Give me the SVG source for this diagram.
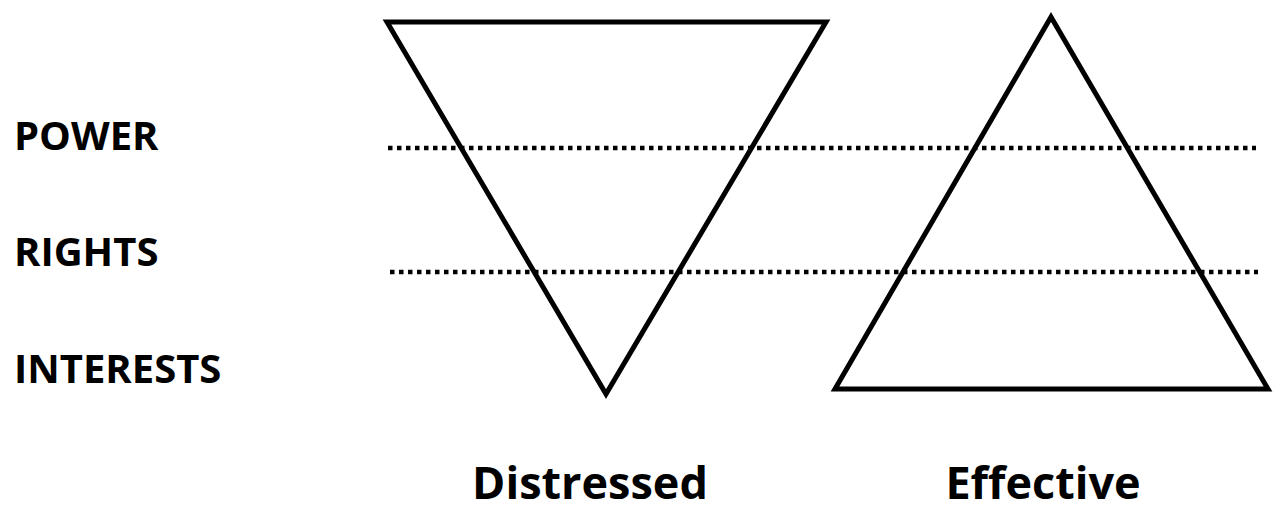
<svg xmlns="http://www.w3.org/2000/svg" width="1273" height="512" viewBox="0 0 1273 512">
<style>
.lbl{font-family:"Open Sans","Liberation Sans",sans-serif;font-weight:bold;font-size:40px;fill:#000}
.cap{font-family:"Open Sans","Liberation Sans",sans-serif;font-weight:bold;font-size:45px;fill:#000;text-anchor:middle}
.tri{fill:none;stroke:#000;stroke-width:5;stroke-linejoin:miter}
.dot{stroke:#000;stroke-width:4.5;stroke-dasharray:4.5 4.5;fill:none}
</style>
<rect width="1273" height="512" fill="#fff"/>
<g id="connectors">
<line class="dot" x1="388" y1="148" x2="1256" y2="148"/>
<line class="dot" x1="390" y1="272" x2="1258" y2="272"/>
</g>
<g id="distressed-triangle"><polygon class="tri" points="387,22 826,22 606,394"/></g>
<g id="effective-triangle"><polygon class="tri" points="1051,17 835,389 1268,389"/></g>
<g id="label-power"><text class="lbl" x="14" y="150">POWER</text></g>
<g id="label-rights"><text class="lbl" x="14" y="266">RIGHTS</text></g>
<g id="label-interests"><text class="lbl" x="14" y="383">INTERESTS</text></g>
<g id="caption-distressed"><text class="cap" x="590" y="499">Distressed</text></g>
<g id="caption-effective"><text class="cap" x="1043" y="499">Effective</text></g>
</svg>
